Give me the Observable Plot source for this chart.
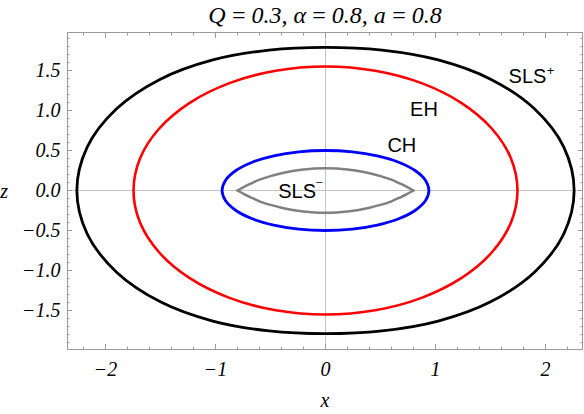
<!DOCTYPE html>
<html><head><meta charset="utf-8">
<script src="https://cdn.jsdelivr.net/npm/d3@7"></script>
<script src="https://cdn.jsdelivr.net/npm/@observablehq/plot@0.6"></script>
<style>body{margin:0;background:#fff;}</style>
</head><body><div id="chart"></div>
<script>
const title = "Q\u2009=\u20090.3, \u03b1\u2009=\u20090.8, a\u2009=\u20090.8";

// SLS+ (outer static limit surface)
const slsPlusX = [2.26, 2.166, 1.899, 1.501, 1.024, 0.514, 0, -0.514, -1.024, -1.501, -1.899, -2.166, -2.26, -2.166, -1.899, -1.501, -1.024, -0.514, 0, 0.514, 1.024, 1.501, 1.899, 2.166];
const slsPlusZ = [0, 0.542, 1.021, 1.391, 1.632, 1.755, 1.79, 1.755, 1.632, 1.391, 1.021, 0.542, 0, -0.542, -1.021, -1.391, -1.632, -1.755, -1.79, -1.755, -1.632, -1.391, -1.021, -0.542];

// EH (event horizon)
const ehX = [1.745, 1.686, 1.511, 1.234, 0.873, 0.452, 0, -0.452, -0.873, -1.234, -1.511, -1.686, -1.745, -1.686, -1.511, -1.234, -0.873, -0.452, 0, 0.452, 0.873, 1.234, 1.511, 1.686];
const ehZ = [0, 0.401, 0.775, 1.096, 1.342, 1.497, 1.55, 1.497, 1.342, 1.096, 0.775, 0.401, 0, -0.401, -0.775, -1.096, -1.342, -1.497, -1.55, -1.497, -1.342, -1.096, -0.775, -0.401];

// CH (Cauchy horizon)
const chX = [0.94, 0.908, 0.814, 0.665, 0.47, 0.243, 0, -0.243, -0.47, -0.665, -0.814, -0.908, -0.94, -0.908, -0.814, -0.665, -0.47, -0.243, 0, 0.243, 0.47, 0.665, 0.814, 0.908];
const chZ = [0, 0.129, 0.25, 0.354, 0.433, 0.483, 0.5, 0.483, 0.433, 0.354, 0.25, 0.129, 0, -0.129, -0.25, -0.354, -0.433, -0.483, -0.5, -0.483, -0.433, -0.354, -0.25, -0.129];

// SLS- (inner static limit surface, lens shape)
const slsMinusX = [-0.80, -0.74, -0.68, -0.60, -0.50, -0.40, -0.30, -0.20, -0.10, 0, 0.10, 0.20, 0.30, 0.40, 0.50, 0.60, 0.68, 0.74, 0.80];
const slsMinusUpperZ = [0, 0.045, 0.085, 0.135, 0.18, 0.215, 0.243, 0.262, 0.274, 0.278, 0.274, 0.262, 0.243, 0.215, 0.18, 0.135, 0.085, 0.045, 0];
const slsMinusLowerZ = [0, -0.045, -0.085, -0.135, -0.18, -0.215, -0.243, -0.262, -0.274, -0.278, -0.274, -0.262, -0.243, -0.215, -0.18, -0.135, -0.085, -0.045, 0];

// ticks
const xMajorTicks = [-2, -1, 0, 1, 2];
const xMinorTicks = [-2.2, -1.8, -1.6, -1.4, -1.2, -0.8, -0.6, -0.4, -0.2, 0.2, 0.4, 0.6, 0.8, 1.2, 1.4, 1.6, 1.8, 2.2];
const yMajorTicks = [-1.5, -1.0, -0.5, 0.0, 0.5, 1.0, 1.5];
const yMinorTicks = [-1.9, -1.8, -1.7, -1.6, -1.4, -1.3, -1.2, -1.1, -0.9, -0.8, -0.7, -0.6, -0.4, -0.3, -0.2, -0.1, 0.1, 0.2, 0.3, 0.4, 0.6, 0.7, 0.8, 0.9, 1.1, 1.2, 1.3, 1.4, 1.6, 1.7, 1.8, 1.9];

const toRows = (xs, zs) => xs.map((x, i) => ({x, z: zs[i]}));

const serif = "'Liberation Serif', 'Times New Roman', serif";
const sans = "'Liberation Sans', Arial, sans-serif";
const gray = "#9a9a9a";
const fmtX = d3.format("d");
const fmtY = d3.format(".1f");

function inwardTicks(xs, ys, len) {
  return [
    Plot.axisX(xs, {anchor: "bottom", tickSize: len, dy: -len, fill: "none", stroke: gray, label: null}),
    Plot.axisX(xs, {anchor: "top", tickSize: len, dy: len, fill: "none", stroke: gray, label: null}),
    Plot.axisY(ys, {anchor: "left", tickSize: len, dx: len, fill: "none", stroke: gray, label: null}),
    Plot.axisY(ys, {anchor: "right", tickSize: len, dx: -len, fill: "none", stroke: gray, label: null})
  ];
}

const textStyle = {fontFamily: serif, fontStyle: "italic", fontSize: 20, fill: "black"};
const annStyle = {fontFamily: sans, fontStyle: "normal", fill: "black", lineAnchor: "middle"};

const plot = Plot.plot({
  width: 584,
  height: 414,
  marginLeft: 67,
  marginRight: 2,
  marginTop: 32,
  marginBottom: 65,
  x: {domain: [-2.345, 2.336]},
  y: {domain: [-1.9875, 1.975]},
  style: {fontFamily: serif, fontStyle: "italic", fontSize: "20px", color: "black", background: "white", overflow: "visible"},
  marks: [
    Plot.ruleX([0], {stroke: "#c4c4c4", strokeWidth: 1}),
    Plot.ruleY([0], {stroke: "#c4c4c4", strokeWidth: 1}),
    Plot.line(toRows(slsPlusX, slsPlusZ), {x: "x", y: "z", curve: "catmull-rom-closed", stroke: "#000000", strokeWidth: 2.8}),
    Plot.line(toRows(ehX, ehZ), {x: "x", y: "z", curve: "catmull-rom-closed", stroke: "#ff0000", strokeWidth: 2.6}),
    Plot.line(toRows(chX, chZ), {x: "x", y: "z", curve: "catmull-rom-closed", stroke: "#0000ff", strokeWidth: 2.8}),
    Plot.line(toRows(slsMinusX, slsMinusUpperZ), {x: "x", y: "z", curve: "catmull-rom", stroke: "#808080", strokeWidth: 2.5}),
    Plot.line(toRows(slsMinusX, slsMinusLowerZ), {x: "x", y: "z", curve: "catmull-rom", stroke: "#808080", strokeWidth: 2.5}),
    Plot.frame({stroke: gray}),
    ...inwardTicks(xMajorTicks, yMajorTicks, 5),
    ...inwardTicks(xMinorTicks, yMinorTicks, 2.5),
    Plot.axisX(xMajorTicks, {anchor: "bottom", tickSize: 0, tickPadding: 12, tickFormat: fmtX, label: null, ...textStyle}),
    Plot.axisY(yMajorTicks, {anchor: "left", tickSize: 0, tickPadding: 7, tickFormat: fmtY, label: null, ...textStyle}),
    // axis labels and title
    Plot.text(["x"], {text: d => d, frameAnchor: "bottom", dy: 50.6, lineAnchor: "middle", ...textStyle}),
    Plot.text(["z"], {text: d => d, frameAnchor: "left", dx: -63.3, dy: 1, textAnchor: "middle", lineAnchor: "middle", ...textStyle}),
    Plot.text([title], {text: d => d, frameAnchor: "top", dy: -16.7, lineAnchor: "middle", ...textStyle, fontSize: 24}),
    // curve annotations
    Plot.text(["SLS"], {text: d => d, x: [1.664], y: [1.42], textAnchor: "start", fontSize: 20, ...annStyle}),
    Plot.text(["+"], {text: d => d, x: [2.01], y: [1.494], textAnchor: "start", fontSize: 13, ...annStyle}),
    Plot.text(["EH"], {text: d => d, x: [0.895], y: [1.0175], textAnchor: "middle", fontSize: 20, ...annStyle}),
    Plot.text(["CH"], {text: d => d, x: [0.694], y: [0.5675], textAnchor: "middle", fontSize: 20, ...annStyle}),
    Plot.text(["SLS"], {text: d => d, x: [-0.43], y: [-0.011], textAnchor: "start", fontSize: 20, ...annStyle}),
    Plot.text(["\u2013"], {text: d => d, x: [-0.085], y: [0.11], textAnchor: "start", fontSize: 11, ...annStyle})
  ]
});
document.getElementById("chart").appendChild(plot);
</script>
</body></html>
